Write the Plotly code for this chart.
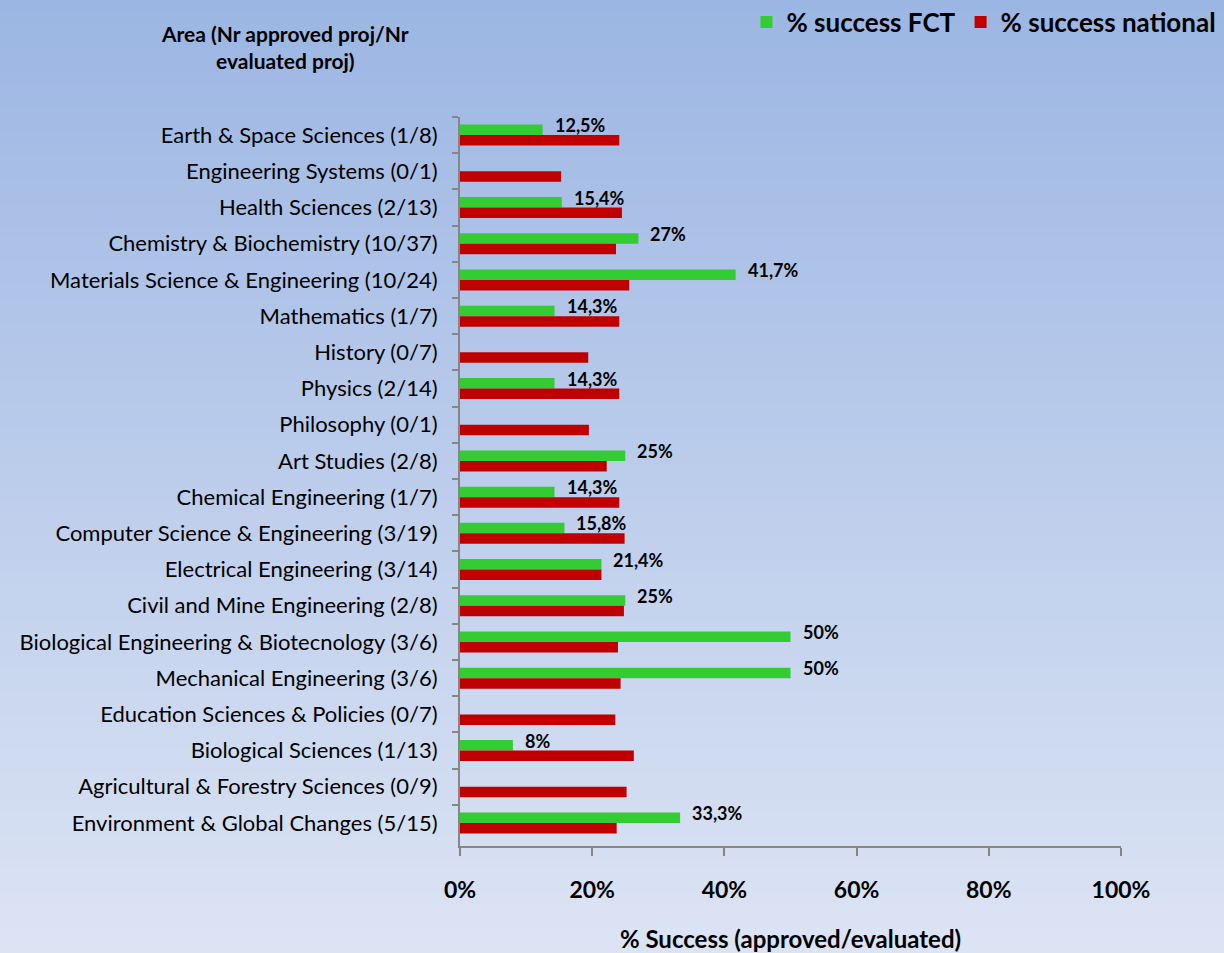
import plotly.graph_objects as go

areas = [
    "Earth & Space Sciences (1/8)",
    "Engineering Systems (0/1)",
    "Health Sciences (2/13)",
    "Chemistry & Biochemistry (10/37)",
    "Materials Science & Engineering (10/24)",
    "Mathematics (1/7)",
    "History (0/7)",
    "Physics (2/14)",
    "Philosophy (0/1)",
    "Art Studies (2/8)",
    "Chemical Engineering (1/7)",
    "Computer Science & Engineering (3/19)",
    "Electrical Engineering (3/14)",
    "Civil and Mine Engineering (2/8)",
    "Biological Engineering & Biotecnology (3/6)",
    "Mechanical Engineering (3/6)",
    "Education Sciences & Policies (0/7)",
    "Biological Sciences (1/13)",
    "Agricultural & Forestry Sciences (0/9)",
    "Environment & Global Changes (5/15)",
]
fct = [12.5, 0, 15.4, 27, 41.7, 14.3, 0, 14.3, 0, 25,
       14.3, 15.8, 21.4, 25, 50, 50, 0, 8, 0, 33.3]
fct_labels = ["12,5%", "", "15,4%", "27%", "41,7%", "14,3%", "", "14,3%", "", "25%",
              "14,3%", "15,8%", "21,4%", "25%", "50%", "50%", "", "8%", "", "33,3%"]
national = [24.1, 15.3, 24.5, 23.6, 25.6, 24.1, 19.4, 24.1, 19.5, 22.2,
            24.1, 24.9, 21.4, 24.8, 23.9, 24.3, 23.5, 26.3, 25.2, 23.7]

FONT = "Lato"
GREEN = "#33cc33"
RED = "#c00000"
AXIS = "#868686"

fig = go.Figure()
fig.add_trace(go.Bar(y=areas, x=fct, orientation="h", name="<b>% success FCT</b>",
                     marker=dict(color=GREEN, line=dict(width=0))))
fig.add_trace(go.Bar(y=areas, x=national, orientation="h", name="<b>% success national</b>",
                     marker=dict(color=RED, line=dict(width=0))))

# value labels for FCT bars
for a, v, t in zip(areas, fct, fct_labels):
    if t:
        fig.add_annotation(x=v, y=a, text="<b>%s</b>" % t, showarrow=False,
                           xanchor="left", xshift=10, yshift=10,
                           font=dict(family=FONT, size=18, color="black"))

# background gradient (top blue -> bottom pale)
top = (156, 182, 227)
bot = (220, 228, 244)
W, H = 1224, 953
L, R, T, B = 460, 103, 117, 107
ph = H - T - B
n = 80
shapes = []
for i in range(n):
    f = i / (n - 1)
    c = tuple(round(top[k] + (bot[k] - top[k]) * f) for k in range(3))
    py0 = H * i / n
    py1 = H * (i + 1) / n + 1
    y0 = 1 - (py0 - T) / ph
    y1 = 1 - (py1 - T) / ph
    shapes.append(dict(type="rect", xref="paper", yref="paper", x0=-1, x1=2,
                       y0=y1, y1=y0, fillcolor="rgb(%d,%d,%d)" % c,
                       line=dict(width=0), layer="below"))

fig.add_annotation(xref="paper", yref="paper", x=(285 - L) / 661, y=1 + (T - 47) / ph,
                   xanchor="center", yanchor="middle",
                   text="<b>Area (Nr approved proj/Nr<br>evaluated proj)</b>",
                   showarrow=False, font=dict(family=FONT, size=21, color="black"))

fig.update_layout(
    width=W, height=H,
    margin=dict(l=L, r=R, t=T, b=B, autoexpand=False),
    shapes=shapes,
    paper_bgcolor="rgba(0,0,0,0)",
    plot_bgcolor="rgba(0,0,0,0)",
    barmode="group",
    bargap=0.42,
    bargroupgap=0,
    font=dict(family=FONT, color="black"),
    legend=dict(orientation="h", x=1.152, xanchor="right", y=1 + (T - 22) / ph,
                yanchor="middle", font=dict(family=FONT, size=26),
                bgcolor="rgba(0,0,0,0)", itemwidth=30, traceorder="normal"),
    xaxis=dict(range=[0, 100], tickvals=[0, 20, 40, 60, 80, 100],
               ticktext=["<b>%d%%</b>" % v for v in [0, 20, 40, 60, 80, 100]],
               tickfont=dict(family=FONT, size=23), showgrid=False, zeroline=False,
               showline=True, linecolor=AXIS, linewidth=2, ticks="outside",
               ticklen=8, tickcolor=AXIS, tickwidth=1.5, ticklabelstandoff=14,
               automargin=False,
               title=dict(text="<b>% Success (approved/evaluated)</b>",
                          font=dict(family=FONT, size=24), standoff=30)),
    yaxis=dict(autorange="reversed", showgrid=False, zeroline=False,
               showline=True, linecolor=AXIS, linewidth=2, ticks="outside",
               ticklen=6, tickcolor=AXIS, tickwidth=1.5, tickson="boundaries",
               tickfont=dict(family=FONT, size=22), ticklabelstandoff=16,
               automargin=False),
)

fig.write_html("out.html", config={"displayModeBar": False},
               post_script="document.body.style.margin='0';")
